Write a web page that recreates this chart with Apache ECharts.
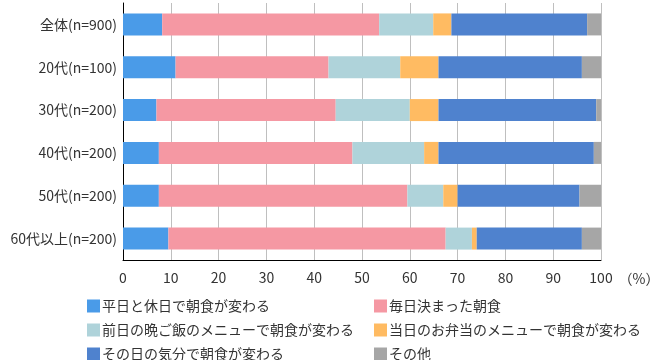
<!DOCTYPE html>
<html><head><meta charset="utf-8">
<script src="https://cdn.jsdelivr.net/npm/echarts@6/dist/echarts.min.js"></script>
<style>html,body{margin:0;padding:0;background:#fff}#c{width:650px;height:360px}</style>
</head><body><div id="c"></div>
<script>
const categories = ['全体(n=900)','20代(n=100)','30代(n=200)','40代(n=200)','50代(n=200)','60代以上(n=200)'];
const seriesNames = ['平日と休日で朝食が変わる','毎日決まった朝食','前日の晩ご飯のメニューで朝食が変わる','当日のお弁当のメニューで朝食が変わる','その日の気分で朝食が変わる','その他'];
const s1 = [8.2, 11, 7, 7.5, 7.5, 9.5];
const s2 = [45.4, 32, 37.5, 40.5, 52, 58];
const s3 = [11.3, 15, 15.5, 15, 7.5, 5.5];
const s4 = [3.8, 8, 6, 3, 3, 1];
const s5 = [28.4, 30, 33, 32.5, 25.5, 22];
const s6 = [2.9, 4, 1, 1.5, 4.5, 4];
const xTicks = [0,10,20,30,40,50,60,70,80,90,100];
const colors = ['#4A9BE8','#F598A3','#AFD3DA','#FFBB62','#4F82CE','#A6A6A6'];
const allData = [s1,s2,s3,s4,s5,s6];
const font = '"Noto Sans CJK JP", "Noto Sans", sans-serif';
const chart = echarts.init(document.getElementById('c'));
const legendCommon = {orient:'vertical',top:299,height:80,padding:0,itemWidth:13,itemHeight:13,itemGap:10,icon:'rect',
  textStyle:{color:'#333',fontSize:14,fontFamily:font,padding:[0,0,0,-3],lineHeight:13}};
chart.setOption({
  animation:false,
  textStyle:{fontFamily:font},
  grid:{left:123,right:49,top:3,bottom:100,containLabel:false,outerBoundsMode:'none'},
  xAxis:{type:'value',min:xTicks[0],max:xTicks[xTicks.length-1],interval:10,
    axisLine:{show:true,lineStyle:{color:'#000',width:1}},
    axisTick:{show:false},
    axisLabel:{color:'#333',fontSize:14,margin:11,fontFamily:font},
    splitLine:{show:true,lineStyle:{color:'#BFBFBF',width:1}},
    name:'（%）',nameLocation:'end',nameGap:-5,
    nameTextStyle:{color:'#333',fontSize:14,fontFamily:font,verticalAlign:'top',padding:[12,0,0,0]}
  },
  yAxis:{type:'category',data:categories,inverse:true,
    axisLine:{show:true,lineStyle:{color:'#000',width:1}},
    axisTick:{show:false},
    axisLabel:{color:'#333',fontSize:14,margin:6,fontFamily:font}
  },
  legend:[
    Object.assign({data:[seriesNames[0],seriesNames[2],seriesNames[4]],left:87}, legendCommon),
    Object.assign({data:[seriesNames[1],seriesNames[3],seriesNames[5]],left:374}, legendCommon)
  ],
  series: seriesNames.map((n,i)=>({
    name:n,type:'bar',stack:'total',data:allData[i],barWidth:22,
    itemStyle:{color:colors[i]}
  }))
});
</script></body></html>
